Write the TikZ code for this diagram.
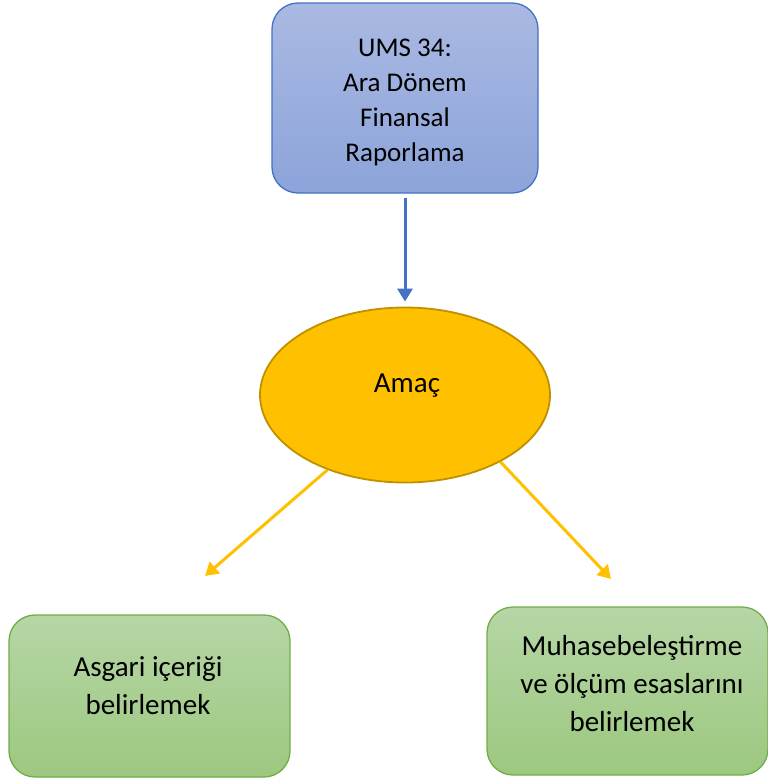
\documentclass[tikz,border=0pt]{standalone}
\usepackage{fontspec}
\setmainfont{Carlito}
\usetikzlibrary{arrows.meta,shapes.geometric}

\definecolor{blueedge}{HTML}{4472C4}
\definecolor{bluetop}{HTML}{AAB9E2}
\definecolor{bluebot}{HTML}{8CA4DA}
\definecolor{amber}{HTML}{FFC000}
\definecolor{amberedge}{HTML}{BF9000}
\definecolor{greenedge}{HTML}{70AD47}
\definecolor{greentop}{HTML}{B6D6A6}
\definecolor{greenbot}{HTML}{9CC87F}

\tikzset{
  bluebox/.style={draw=blueedge, line width=1.3pt, rounded corners=26pt,
    top color=bluetop, bottom color=bluebot, inner sep=0pt},
  greenbox/.style={draw=greenedge, line width=1.3pt, rounded corners=26pt,
    top color=greentop, bottom color=greenbot, inner sep=0pt},
  goal/.style={ellipse, draw=amberedge, line width=1.8pt, fill=amber,
    inner sep=0pt, minimum width=290pt, minimum height=175pt},
  boxtext/.style={align=center, font=\fontsize{29}{38}\selectfont},
  bluearrow/.style={draw=blueedge, line width=3pt,
    -{Triangle[length=13pt,width=15pt]}},
  amberarrow/.style={draw=amber, line width=3pt,
    -{Triangle[length=13pt,width=15pt]}}
}

\begin{document}
\begin{tikzpicture}[x=1pt,y=-1pt]
  \useasboundingbox (0,0) rectangle (768,780);

  % source standard
  \node[bluebox, minimum width=266pt, minimum height=190pt] (ums) at (405,98) {};
  \node[align=center, font=\fontsize{27}{35}\selectfont] (umstext) at (405,102)
    {UMS 34:\\Ara Dönem\\Finansal\\Raporlama};

  % purpose
  \node[goal] (amac) at (405,395) {};
  \node[font=\fontsize{29}{35}\selectfont] (amactext) at (407,386) {Amaç};

  % outcomes
  \node[greenbox, minimum width=281pt, minimum height=162pt] (asgari) at (149.5,696) {};
  \node[boxtext] (asgaritext) at (148,686) {Asgari içeriği\\belirlemek};

  \node[greenbox, minimum width=281pt, minimum height=168pt] (olcum) at (627.5,691) {};
  \node[boxtext] (olcumtext) at (632,684)
    {Muhasebeleştirme\\ve ölçüm esaslarını\\belirlemek};

  % connectors
  \coordinate (leftend) at (205,576);
  \coordinate (rightend) at (611,579);
  \draw[bluearrow, shorten <=4pt, shorten >=5pt] (ums.south) -- (amac.north);
  \draw[amberarrow] (amac.-136) -- (leftend);
  \draw[amberarrow] (amac.-35.5) -- (rightend);
\end{tikzpicture}
\end{document}
